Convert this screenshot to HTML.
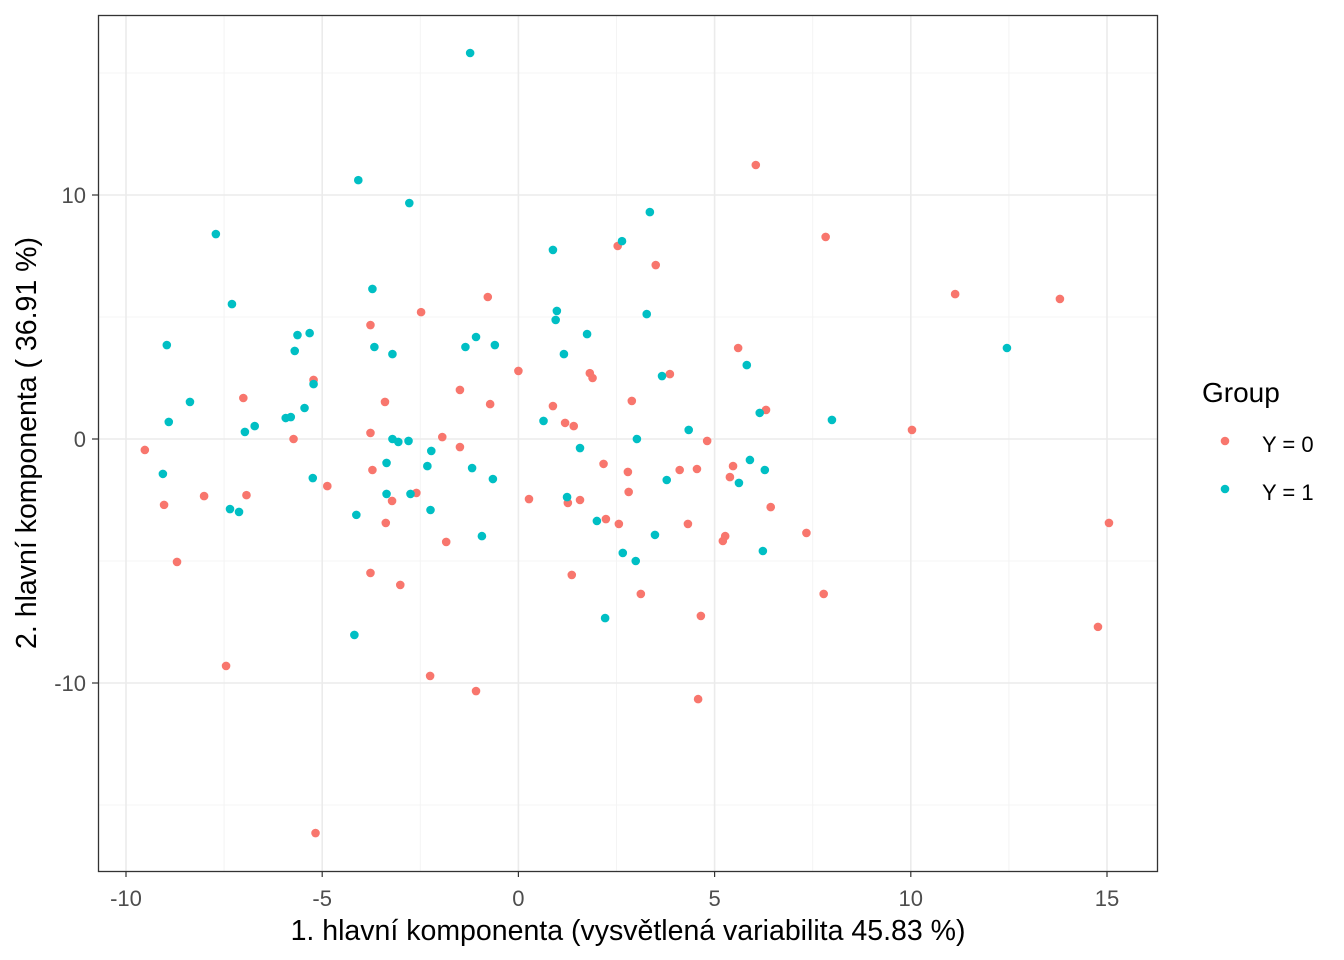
<!DOCTYPE html>
<html><head><meta charset="utf-8"><style>
html,body{margin:0;padding:0;background:#fff;}
svg{display:block;font-family:"Liberation Sans",Arial,sans-serif;}
</style></head><body>
<svg id="chart" width="1344" height="960" viewBox="0 0 1344 960" xmlns="http://www.w3.org/2000/svg">
<rect width="1344" height="960" fill="#fff"/>
<g id="grid"></g>
<g id="pts"></g>
<rect x="98.5" y="15.5" width="1059" height="856" fill="none" stroke="#333" stroke-width="1.3"/>
<g id="axes"></g>
<text x="628" y="940" font-size="28.5" text-anchor="middle" fill="#000">1. hlavní komponenta (vysvětlená variabilita 45.83 %)</text>
<text transform="translate(36,443) rotate(-90)" font-size="28.5" text-anchor="middle" fill="#000">2. hlavní komponenta ( 36.91 %)</text>
<g>
<text x="1202" y="402" font-size="28" fill="#000">Group</text>
<circle cx="1225" cy="441" r="4.3" fill="#F8766D"/>
<text x="1262" y="452" font-size="22" fill="#000">Y = 0</text>
<circle cx="1225" cy="489" r="4.3" fill="#00BFC4"/>
<text x="1262" y="500" font-size="22" fill="#000">Y = 1</text>
</g>
</svg>
<script>
const xTicks=[-10,-5,0,5,10,15];
const xMinor=[-7.5,-2.5,2.5,7.5,12.5];
const yTicks=[-10,0,10];
const yMinor=[-15,-5,5,15];
const g0x=[-9.52,-9.03,-8.70,-8.01,-7.45,-7.01,-6.93,-5.73,-5.22,-5.17,-4.87,-3.77,-3.77,-3.72,-3.77,-3.40,-3.38,-3.22,-3.01,-2.60,-2.48,-2.25,-1.94,-1.84,-1.49,-1.49,-1.08,-0.78,-0.72,0.0,0.27,0.88,1.19,1.26,1.36,1.41,1.57,1.82,1.89,2.17,2.23,2.53,2.56,2.79,2.81,2.89,3.12,3.50,3.86,4.11,4.32,4.55,4.65,4.58,4.81,5.21,5.27,5.39,5.47,5.60,6.05,6.31,6.43,7.34,7.78,7.83,10.03,11.13,13.80,14.77,15.05];
const g0y=[-0.45,-2.7,-5.04,-2.34,-9.3,1.68,-2.30,0.0,2.42,-16.15,-1.93,4.67,0.25,-1.27,-5.49,1.52,-3.44,-2.54,-5.98,-2.21,5.20,-9.71,0.08,-4.22,2.01,-0.33,-10.33,5.82,1.43,2.79,-2.46,1.35,0.66,-2.62,-5.57,0.53,-2.5,2.7,2.5,-1.02,-3.28,7.91,-3.48,-1.35,-2.17,1.56,-6.35,7.13,2.66,-1.27,-3.48,-1.23,-7.25,-10.66,-0.08,-4.18,-3.98,-1.56,-1.11,3.73,11.23,1.19,-2.79,-3.85,-6.35,8.28,0.37,5.94,5.74,-7.70,-3.44];
const g1x=[-9.06,-8.96,-8.91,-8.37,-7.71,-7.35,-7.30,-7.12,-6.97,-6.72,-5.93,-5.80,-5.70,-5.63,-5.45,-5.32,-5.24,-5.22,-4.18,-4.13,-4.08,-3.72,-3.67,-3.36,-3.36,-3.21,-3.21,-3.06,-2.80,-2.78,-2.75,-2.32,-2.24,-2.22,-1.35,-1.23,-1.18,-1.08,-0.93,-0.65,-0.60,0.64,0.88,0.95,0.98,1.16,1.24,1.57,1.75,2.00,2.21,2.64,2.66,2.99,3.02,3.27,3.35,3.48,3.66,3.78,4.34,5.62,5.82,5.90,6.15,6.23,6.28,7.99,12.45];
const g1y=[-1.43,3.85,0.70,1.52,8.40,-2.87,5.53,-2.99,0.29,0.53,0.86,0.90,3.61,4.26,1.27,4.34,-1.60,2.25,-8.03,-3.11,10.61,6.15,3.77,-0.98,-2.25,0.0,3.48,-0.12,-0.08,9.67,-2.25,-1.11,-2.91,-0.49,3.77,15.82,-1.19,4.18,-3.98,-1.64,3.85,0.74,7.75,4.88,5.25,3.48,-2.38,-0.37,4.30,-3.36,-7.34,8.11,-4.67,-5.0,0.0,5.12,9.30,-3.93,2.58,-1.68,0.37,-1.80,3.03,-0.86,1.07,-4.59,-1.27,0.78,3.73];

const NS="http://www.w3.org/2000/svg";
const sx=v=>518.4+v*39.24;
const sy=v=>439-v*24.4;
function mk(tag,attrs,parent){const e=document.createElementNS(NS,tag);for(const k in attrs)e.setAttribute(k,attrs[k]);parent.appendChild(e);return e;}
const grid=document.getElementById('grid'),pts=document.getElementById('pts'),axes=document.getElementById('axes');
xMinor.forEach(v=>{const l=mk('line',{x1:sx(v),x2:sx(v),y1:15,y2:871,stroke:'#f4f4f4','stroke-width':1},grid);

});
yMinor.forEach(v=>{const l=mk('line',{x1:98,x2:1157,y1:sy(v),y2:sy(v),stroke:'#f4f4f4','stroke-width':1},grid);

});
xTicks.forEach(v=>{const l=mk('line',{x1:sx(v),x2:sx(v),y1:15,y2:871,stroke:'#ebebeb','stroke-width':1.6},grid);


const t=mk('line',{x1:sx(v),x2:sx(v),y1:871,y2:877,stroke:'#333','stroke-width':1.2},axes);


const tx=mk('text',{x:sx(v),y:906,'font-size':22,'text-anchor':'middle',fill:'#4d4d4d'},axes);tx.textContent=v;

});
yTicks.forEach(v=>{const l=mk('line',{x1:98,x2:1157,y1:sy(v),y2:sy(v),stroke:'#ebebeb','stroke-width':1.6},grid);


const t=mk('line',{x1:92,x2:98,y1:sy(v),y2:sy(v),stroke:'#333','stroke-width':1.2},axes);


const tx=mk('text',{x:86,y:sy(v)+8,'font-size':22,'text-anchor':'end',fill:'#4d4d4d'},axes);tx.textContent=v;

});
g0x.forEach((v,i)=>{const c=mk('circle',{cx:sx(v),cy:sy(g0y[i]),r:4.3,fill:'#F8766D'},pts);

});
g1x.forEach((v,i)=>{const c=mk('circle',{cx:sx(v),cy:sy(g1y[i]),r:4.3,fill:'#00BFC4'},pts);

});
</script>
</body></html>
